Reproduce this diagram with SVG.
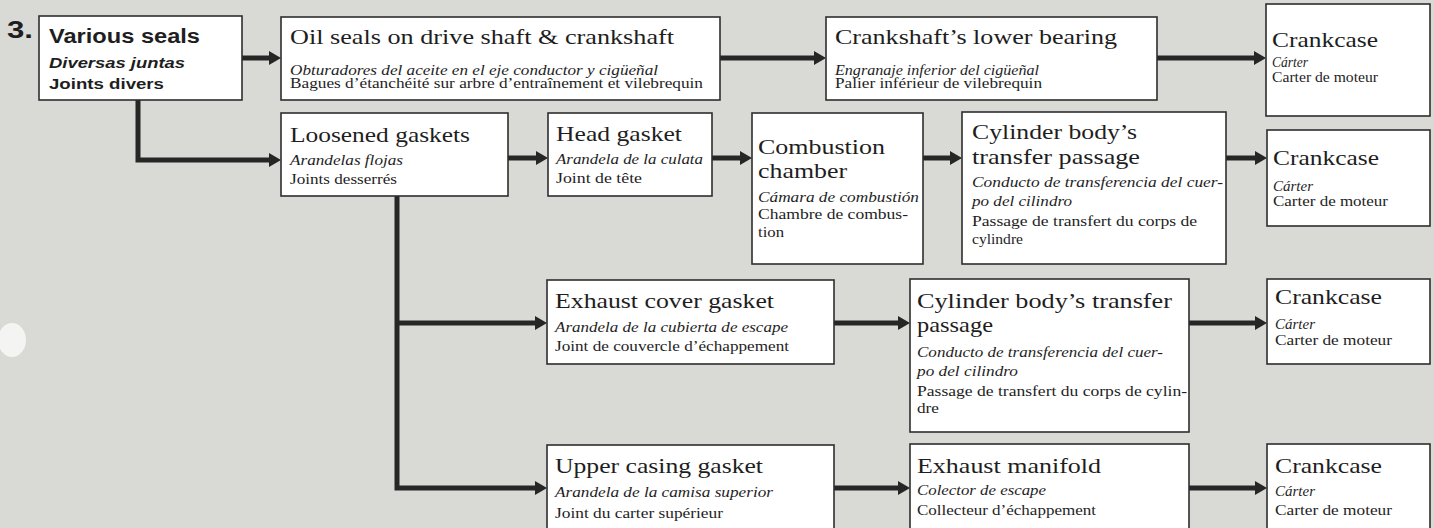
<svg xmlns="http://www.w3.org/2000/svg" width="1434" height="528" viewBox="0 0 1434 528">
<style>
.bg{fill:#d9d9d6}
.box{fill:#ffffff;stroke:#2e2e2e;stroke-width:1.6}
.h{font-family:"Liberation Serif","Times New Roman",serif;font-size:22px;fill:#1e1e1e}
.es{font-family:"Liberation Serif","Times New Roman",serif;font-size:14px;font-style:italic;fill:#1e1e1e}
.fr{font-family:"Liberation Serif","Times New Roman",serif;font-size:14px;fill:#1e1e1e}
.bh{font-family:"Liberation Sans",Arial,sans-serif;font-weight:bold;fill:#1e1e1e}
.c{fill:none;stroke:#262626;stroke-width:5;stroke-linejoin:miter}
</style>
<defs>
<marker id="ah" viewBox="0 0 12 14" refX="4" refY="7" markerWidth="12" markerHeight="14" markerUnits="userSpaceOnUse" orient="auto">
<path d="M0,0 L12,7 L0,14 z" fill="#262626"/>
</marker>
</defs>
<rect class="bg" x="0" y="0" width="1434" height="528"/>
<ellipse cx="12" cy="340" rx="14" ry="17" fill="#f4f4f2"/>

<g id="connectors">
<path class="c" d="M242,58 H273" marker-end="url(#ah)"/>
<path class="c" d="M720,58 H818" marker-end="url(#ah)"/>
<path class="c" d="M1157,58 H1258" marker-end="url(#ah)"/>
<path class="c" d="M138,100 V160 H273" marker-end="url(#ah)"/>
<path class="c" d="M508,158 H540" marker-end="url(#ah)"/>
<path class="c" d="M712,158 H744" marker-end="url(#ah)"/>
<path class="c" d="M923,158 H954" marker-end="url(#ah)"/>
<path class="c" d="M1226,158 H1259" marker-end="url(#ah)"/>
<path class="c" d="M397,196 V488 H539" marker-end="url(#ah)"/>
<path class="c" d="M397,323 H539" marker-end="url(#ah)"/>
<path class="c" d="M834,323 H902" marker-end="url(#ah)"/>
<path class="c" d="M1189,323 H1259" marker-end="url(#ah)"/>
<path class="c" d="M834,488 H902" marker-end="url(#ah)"/>
<path class="c" d="M1189,488 H1259" marker-end="url(#ah)"/>
</g>

<text class="bh" x="7" y="38" font-size="23" textLength="26" lengthAdjust="spacingAndGlyphs">3.</text>

<g id="various-seals">
<rect class="box" x="39" y="16" width="203" height="84"/>
<text class="bh" x="49" y="43" font-size="20" textLength="151" lengthAdjust="spacingAndGlyphs">Various seals</text>
<text class="bh" x="49" y="68" font-size="15" font-style="italic" textLength="136" lengthAdjust="spacingAndGlyphs">Diversas juntas</text>
<text class="bh" x="49" y="89" font-size="15" textLength="115" lengthAdjust="spacingAndGlyphs">Joints divers</text>
</g>

<g id="oil-seals">
<rect class="box" x="281" y="17" width="439" height="83"/>
<text class="h" x="290" y="44" textLength="384" lengthAdjust="spacingAndGlyphs">Oil seals on drive shaft &amp; crankshaft</text>
<text class="es" x="290" y="75" textLength="368" lengthAdjust="spacingAndGlyphs">Obturadores del aceite en el eje conductor y cigüeñal</text>
<text class="fr" x="290" y="88" textLength="413" lengthAdjust="spacingAndGlyphs">Bagues d’étanchéité sur arbre d’entraînement et vilebrequin</text>
</g>

<g id="lower-bearing">
<rect class="box" x="826" y="17" width="331" height="83"/>
<text class="h" x="835" y="44" textLength="282" lengthAdjust="spacingAndGlyphs">Crankshaft’s lower bearing</text>
<text class="es" x="835" y="75" textLength="204" lengthAdjust="spacingAndGlyphs">Engranaje inferior del cigüeñal</text>
<text class="fr" x="835" y="88" textLength="207" lengthAdjust="spacingAndGlyphs">Palier inférieur de vilebrequin</text>
</g>

<g id="crankcase-1">
<rect class="box" x="1266" y="4" width="164" height="112"/>
<text class="h" x="1272" y="47" textLength="106" lengthAdjust="spacingAndGlyphs">Crankcase</text>
<text class="es" x="1272" y="67" textLength="36" lengthAdjust="spacingAndGlyphs">Cárter</text>
<text class="fr" x="1272" y="82" textLength="106" lengthAdjust="spacingAndGlyphs">Carter de moteur</text>
</g>

<g id="loosened-gaskets">
<rect class="box" x="281" y="113" width="227" height="83"/>
<text class="h" x="290" y="142" textLength="180" lengthAdjust="spacingAndGlyphs">Loosened gaskets</text>
<text class="es" x="290" y="165" textLength="113" lengthAdjust="spacingAndGlyphs">Arandelas flojas</text>
<text class="fr" x="290" y="184" textLength="107" lengthAdjust="spacingAndGlyphs">Joints desserrés</text>
</g>

<g id="head-gasket">
<rect class="box" x="548" y="113" width="164" height="83"/>
<text class="h" x="556" y="141" textLength="126" lengthAdjust="spacingAndGlyphs">Head gasket</text>
<text class="es" x="556" y="164" textLength="147" lengthAdjust="spacingAndGlyphs">Arandela de la culata</text>
<text class="fr" x="556" y="183" textLength="86" lengthAdjust="spacingAndGlyphs">Joint de tête</text>
</g>

<g id="combustion-chamber">
<rect class="box" x="752" y="113" width="171" height="151"/>
<text class="h" x="758" y="154" textLength="127" lengthAdjust="spacingAndGlyphs">Combustion</text>
<text class="h" x="758" y="178" textLength="89" lengthAdjust="spacingAndGlyphs">chamber</text>
<text class="es" x="758" y="202" textLength="161" lengthAdjust="spacingAndGlyphs">Cámara de combustión</text>
<text class="fr" x="758" y="219" textLength="150" lengthAdjust="spacingAndGlyphs">Chambre de combus-</text>
<text class="fr" x="758" y="237" textLength="26" lengthAdjust="spacingAndGlyphs">tion</text>
</g>

<g id="cylinder-transfer-1">
<rect class="box" x="962" y="112" width="264" height="152"/>
<text class="h" x="972" y="139" textLength="165" lengthAdjust="spacingAndGlyphs">Cylinder body’s</text>
<text class="h" x="972" y="164" textLength="168" lengthAdjust="spacingAndGlyphs">transfer passage</text>
<text class="es" x="972" y="187" textLength="251" lengthAdjust="spacingAndGlyphs">Conducto de transferencia del cuer-</text>
<text class="es" x="972" y="206" textLength="100" lengthAdjust="spacingAndGlyphs">po del cilindro</text>
<text class="fr" x="972" y="226" textLength="225" lengthAdjust="spacingAndGlyphs">Passage de transfert du corps de</text>
<text class="fr" x="972" y="244" textLength="51" lengthAdjust="spacingAndGlyphs">cylindre</text>
</g>

<g id="crankcase-2">
<rect class="box" x="1267" y="130" width="163" height="96"/>
<text class="h" x="1273" y="165" textLength="106" lengthAdjust="spacingAndGlyphs">Crankcase</text>
<text class="es" x="1273" y="191" textLength="40" lengthAdjust="spacingAndGlyphs">Cárter</text>
<text class="fr" x="1273" y="206" textLength="115" lengthAdjust="spacingAndGlyphs">Carter de moteur</text>
</g>

<g id="exhaust-cover-gasket">
<rect class="box" x="547" y="280" width="287" height="84"/>
<text class="h" x="555" y="308" textLength="219" lengthAdjust="spacingAndGlyphs">Exhaust cover gasket</text>
<text class="es" x="555" y="332" textLength="233" lengthAdjust="spacingAndGlyphs">Arandela de la cubierta de escape</text>
<text class="fr" x="555" y="351" textLength="234" lengthAdjust="spacingAndGlyphs">Joint de couvercle d’échappement</text>
</g>

<g id="cylinder-transfer-2">
<rect class="box" x="910" y="279" width="279" height="153"/>
<text class="h" x="917" y="308" textLength="255" lengthAdjust="spacingAndGlyphs">Cylinder body’s transfer</text>
<text class="h" x="917" y="332" textLength="76" lengthAdjust="spacingAndGlyphs">passage</text>
<text class="es" x="917" y="357" textLength="246" lengthAdjust="spacingAndGlyphs">Conducto de transferencia del cuer-</text>
<text class="es" x="917" y="376" textLength="101" lengthAdjust="spacingAndGlyphs">po del cilindro</text>
<text class="fr" x="917" y="396" textLength="270" lengthAdjust="spacingAndGlyphs">Passage de transfert du corps de cylin-</text>
<text class="fr" x="917" y="413" textLength="22" lengthAdjust="spacingAndGlyphs">dre</text>
</g>

<g id="crankcase-3">
<rect class="box" x="1267" y="279" width="163" height="85"/>
<text class="h" x="1275" y="304" textLength="107" lengthAdjust="spacingAndGlyphs">Crankcase</text>
<text class="es" x="1275" y="329" textLength="40" lengthAdjust="spacingAndGlyphs">Cárter</text>
<text class="fr" x="1275" y="345" textLength="117" lengthAdjust="spacingAndGlyphs">Carter de moteur</text>
</g>

<g id="upper-casing-gasket">
<rect class="box" x="547" y="445" width="287" height="90"/>
<text class="h" x="555" y="473" textLength="208" lengthAdjust="spacingAndGlyphs">Upper casing gasket</text>
<text class="es" x="555" y="497" textLength="218" lengthAdjust="spacingAndGlyphs">Arandela de la camisa  superior</text>
<text class="fr" x="555" y="518" textLength="168" lengthAdjust="spacingAndGlyphs">Joint du carter supérieur</text>
</g>

<g id="exhaust-manifold">
<rect class="box" x="910" y="444" width="279" height="90"/>
<text class="h" x="917" y="473" textLength="184" lengthAdjust="spacingAndGlyphs">Exhaust manifold</text>
<text class="es" x="917" y="495" textLength="129" lengthAdjust="spacingAndGlyphs">Colector de escape</text>
<text class="fr" x="917" y="515" textLength="179" lengthAdjust="spacingAndGlyphs">Collecteur d’échappement</text>
</g>

<g id="crankcase-4">
<rect class="box" x="1267" y="444" width="163" height="90"/>
<text class="h" x="1275" y="473" textLength="107" lengthAdjust="spacingAndGlyphs">Crankcase</text>
<text class="es" x="1275" y="496" textLength="40" lengthAdjust="spacingAndGlyphs">Cárter</text>
<text class="fr" x="1275" y="515" textLength="117" lengthAdjust="spacingAndGlyphs">Carter de moteur</text>
</g>
</svg>
